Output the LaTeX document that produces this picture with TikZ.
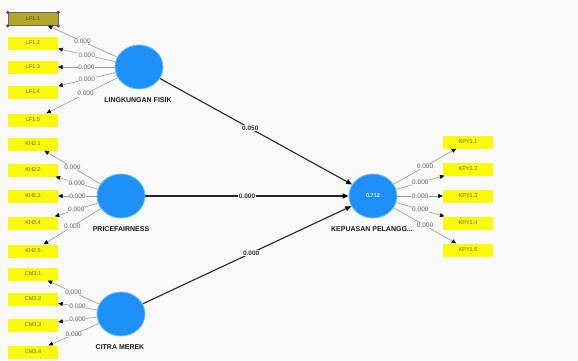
\documentclass[tikz,border=0pt]{standalone}
\usepackage{fontspec}
\setmainfont{Liberation Sans}
\usetikzlibrary{arrows.meta,shapes.geometric}
\definecolor{bgc}{RGB}{250,250,250}
\definecolor{indyellow}{RGB}{250,250,10}
\definecolor{seloli}{RGB}{178,168,40}
\definecolor{oltext}{RGB}{100,100,30}
\definecolor{lvblue}{RGB}{30,144,250}
\definecolor{lvedge}{RGB}{110,190,255}
\definecolor{selpur}{RGB}{120,40,140}
\begin{document}
\begin{tikzpicture}[x=1pt,y=-1pt,
  ind/.style={fill=indyellow, minimum width=50pt, minimum height=13pt, inner sep=0pt,
    font=\fontsize{5.5}{6}\selectfont, text=oltext},
  lv/.style={ellipse, fill=lvblue, draw=lvedge, line width=0.8pt, minimum width=48pt,
    minimum height=44pt, inner sep=0pt, font=\fontsize{5.5}{6}\selectfont\bfseries, text=white},
  lvname/.style={font=\fontsize{7}{8}\selectfont\bfseries, text=black!90, inner sep=0pt},
  load/.style={draw=gray!80, line width=0.6pt, -{Triangle[color=black,length=4.5pt,width=4pt]}},
  path/.style={draw=black!85, line width=1.1pt, -{Triangle[color=black,length=6pt,width=5pt]}},
  lbl/.style={fill=bgc, inner sep=0.6pt, font=\fontsize{6.5}{7}\selectfont, text=gray!80!black},
  plbl/.style={fill=bgc, inner sep=0.8pt, font=\fontsize{6.5}{7}\selectfont\bfseries, text=black!80},
  dot/.style={fill=selpur, circle, inner sep=0pt, minimum size=3.5pt}
]
\fill[bgc] (0,0) rectangle (578,360);
\useasboundingbox (0,0) rectangle (578,360);

% indicators left
\node[ind, fill=seloli, draw=black!60, line width=0.5pt, text=oltext!70!black] (lf1) at (33,19) {LF1.1};
\node[dot] (d1) at (lf1.north west) {};
\node[dot] (d2) at (lf1.north east) {};
\node[dot] (d3) at (lf1.south west) {};
\node[dot] (d4) at (lf1.south east) {};
\node[ind] (lf2) at (33,43) {LF1.2};
\node[ind] (lf3) at (33,67) {LF1.3};
\node[ind] (lf4) at (33,92) {LF1.4};
\node[ind] (lf5) at (33,120) {LF1.5};
\node[ind] (kh1) at (33,144) {KH2.1};
\node[ind] (kh2) at (33,170) {KH2.2};
\node[ind] (kh3) at (33,196) {KH2.3};
\node[ind] (kh4) at (33,223) {KH2.4};
\node[ind] (kh5) at (33,251) {KH2.5};
\node[ind] (cm1) at (33,274) {CM3.1};
\node[ind] (cm2) at (33,299) {CM3.2};
\node[ind] (cm3) at (33,325) {CM3.3};
\node[ind] (cm4) at (33,352) {CM3.4};
% indicators right
\node[ind] (kp1) at (468,142) {KPY1.1};
\node[ind] (kp2) at (468,169) {KPY1.2};
\node[ind] (kp3) at (468,196) {KPY1.3};
\node[ind] (kp4) at (468,223) {KPY1.4};
\node[ind] (kp5) at (468,250) {KPY1.5};

% latent variables
\node[lv] (lf) at (139,67) {};
\node[lv] (pf) at (121,196) {};
\node[lv] (cm) at (121,314) {};
\node[lv] (kp) at (373,196) {0.712};

\node[lvname] (lfn) at (138,100) {LINGKUNGAN FISIK};
\node[lvname] (pfn) at (121,229) {PRICEFAIRNESS};
\node[lvname] (cmn) at (120,347) {CITRA MEREK};
\node[lvname] (kpn) at (372,229) {KEPUASAN PELANGG...};

% loadings
\draw[load] (lf) -- node[lbl]{0.000} (lf1);
\draw[load] (lf) -- node[lbl]{0.000} (lf2);
\draw[load] (lf) -- node[lbl]{0.000} (lf3);
\draw[load] (lf) -- node[lbl]{0.000} (lf4);
\draw[load] (lf) -- node[lbl, pos=0.45]{0.000} (lf5);
\draw[load] (pf) -- node[lbl]{0.000} (kh1);
\draw[load] (pf) -- node[lbl]{0.000} (kh2);
\draw[load] (pf) -- node[lbl]{0.000} (kh3);
\draw[load] (pf) -- node[lbl]{0.000} (kh4);
\draw[load] (pf) -- node[lbl]{0.000} (kh5);
\draw[load] (cm) -- node[lbl]{0.000} (cm1);
\draw[load] (cm) -- node[lbl]{0.000} (cm2);
\draw[load] (cm) -- node[lbl]{0.000} (cm3);
\draw[load] (cm) -- node[lbl]{0.000} (cm4);
\draw[load] (kp) -- node[lbl]{0.000} (kp1);
\draw[load] (kp) -- node[lbl]{0.000} (kp2);
\draw[load] (kp) -- node[lbl]{0.000} (kp3);
\draw[load] (kp) -- node[lbl]{0.000} (kp4);
\draw[load] (kp) -- node[lbl]{0.000} (kp5);

% structural paths
\draw[path] (lf) -- node[plbl, pos=0.47]{0.050} (kp);
\draw[path] (pf) -- node[plbl, pos=0.5]{0.000} (kp);
\draw[path] (cm) -- node[plbl, pos=0.52]{0.000} (kp);
\end{tikzpicture}
\end{document}
